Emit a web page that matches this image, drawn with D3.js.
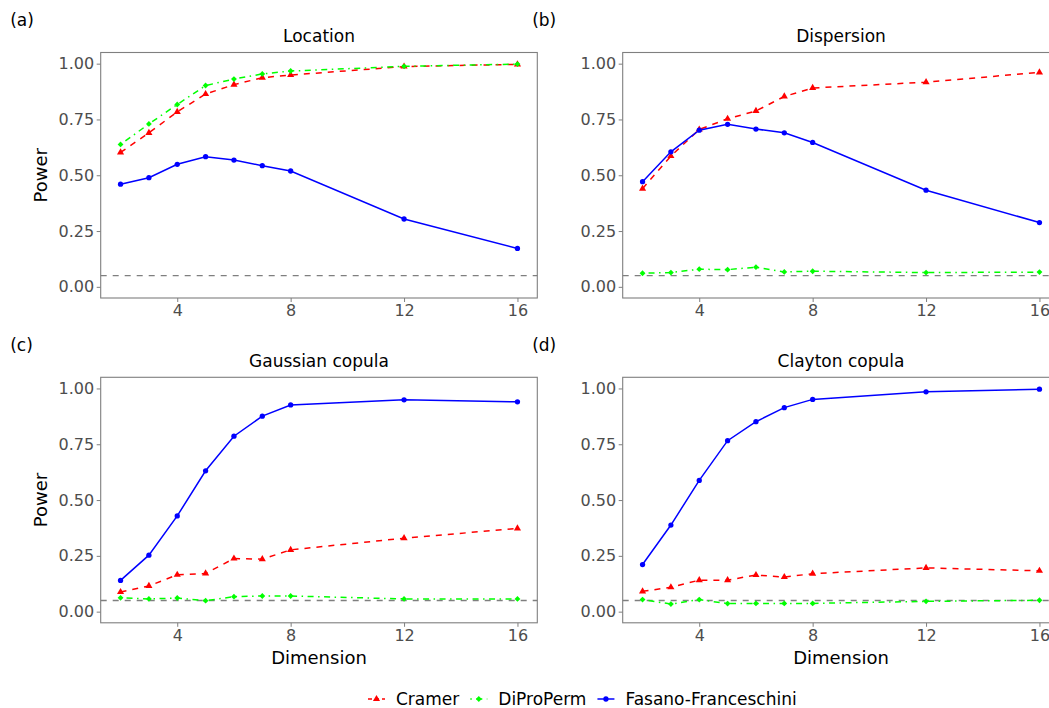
<!DOCTYPE html>
<html>
<head>
<meta charset="utf-8">
<script src="https://cdn.jsdelivr.net/npm/d3@7"></script>
<style>
  body { margin: 0; background: #fff; }
  text { font-family: "DejaVu Sans", sans-serif; }
</style>
</head>
<body>
<div id="chart"></div>
<script>
// values

var dims = [2, 3, 4, 5, 6, 7, 8, 12, 16];
var methods = ["Cramer", "DiProPerm", "Fasano-Franceschini"];
var panelTitles = ["Location", "Dispersion", "Gaussian copula", "Clayton copula"];
var panelTags = ["(a)", "(b)", "(c)", "(d)"];
var xTicks = [4, 8, 12, 16];
var yTicks = [0, 0.25, 0.5, 0.75, 1];
var alpha = 0.05;

var locationCramer = [0.602, 0.690, 0.784, 0.864, 0.906, 0.937, 0.949, 0.987, 0.997];
var locationDiProPerm = [0.638, 0.730, 0.817, 0.902, 0.931, 0.954, 0.967, 0.988, 0.998];
var locationFasano = [0.460, 0.489, 0.549, 0.583, 0.568, 0.543, 0.519, 0.304, 0.172];

var dispersionCramer = [0.440, 0.586, 0.705, 0.753, 0.788, 0.853, 0.891, 0.917, 0.961];
var dispersionDiProPerm = [0.061, 0.064, 0.079, 0.077, 0.088, 0.067, 0.070, 0.064, 0.066];
var dispersionFasano = [0.471, 0.605, 0.702, 0.728, 0.707, 0.690, 0.647, 0.433, 0.288];

var gaussianCramer = [0.088, 0.115, 0.165, 0.171, 0.238, 0.235, 0.277, 0.329, 0.373];
var gaussianDiProPerm = [0.062, 0.057, 0.061, 0.049, 0.067, 0.070, 0.070, 0.057, 0.057];
var gaussianFasano = [0.140, 0.253, 0.429, 0.631, 0.786, 0.876, 0.926, 0.949, 0.940];

var claytonCramer = [0.091, 0.109, 0.141, 0.141, 0.164, 0.155, 0.170, 0.196, 0.183];
var claytonDiProPerm = [0.054, 0.034, 0.054, 0.036, 0.037, 0.037, 0.037, 0.046, 0.051];
var claytonFasano = [0.211, 0.388, 0.588, 0.766, 0.851, 0.914, 0.951, 0.985, 0.997];

var panelData = [
    [locationCramer, locationDiProPerm, locationFasano],
    [dispersionCramer, dispersionDiProPerm, dispersionFasano],
    [gaussianCramer, gaussianDiProPerm, gaussianFasano],
    [claytonCramer, claytonDiProPerm, claytonFasano]
];

// styles for each method
var colors = ["#FF0000", "#00FF00", "#0000FF"],
    dashes = ["6,6", "1.5,4.5,6,4.5", null],
    shapes = [
        d3.symbol().type(d3.symbolTriangle).size(22),
        d3.symbol().type(d3.symbolSquare).size(17),
        d3.symbol().type(d3.symbolCircle).size(22)
    ],
    shapeRotate = [0, 45, 0];

// layout
var w = 1049,
    h = 708,
    pw = 436.6,
    ph = 245.5,
    lefts = [100.7, 622.7],
    tops = [52.5, 377.3],
    svg = d3.select("#chart")
            .append("svg")
            .attr("width", w)
            .attr("height", h),
    x = d3.scaleLinear().domain([1.3, 16.7]).range([0, pw]),
    y = d3.scaleLinear().domain([-0.05, 1.05]).range([ph, 0]);

for (var p = 0; p < 4; p++) {
    render_panel(p, lefts[p % 2], tops[Math.floor(p / 2)]);
}
render_legend();

function render_panel(p, left, top) {
    var g = svg.append("g").attr("transform", "translate(" + left + "," + top + ")");

    // panel tag and title
    svg.append("text")
        .attr("x", left - 90.5)
        .attr("y", top - 26.5)
        .attr("font-size", "17px")
        .attr("fill", "#000")
        .text(panelTags[p]);
    g.append("text")
        .attr("x", pw / 2)
        .attr("y", -10.5)
        .attr("text-anchor", "middle")
        .attr("font-size", "17px")
        .attr("fill", "#000")
        .text(panelTitles[p]);

    // y axis
    var ya = g.append("g")
        .call(d3.axisLeft(y).tickValues(yTicks).tickFormat(d3.format(".2f")).tickSize(4).tickPadding(2.5));
    ya.select(".domain").remove();
    ya.selectAll("line").attr("stroke", "#7F7F7F");
    ya.selectAll("text").attr("fill", "#4D4D4D").attr("font-size", "16px")
        .attr("font-family", "DejaVu Sans");

    // x axis
    var xa = g.append("g")
        .attr("transform", "translate(0," + ph + ")")
        .call(d3.axisBottom(x).tickValues(xTicks).tickFormat(d3.format("d")).tickSize(4).tickPadding(2.5));
    xa.select(".domain").remove();
    xa.selectAll("line").attr("stroke", "#7F7F7F");
    xa.selectAll("text").attr("fill", "#4D4D4D").attr("font-size", "16px")
        .attr("font-family", "DejaVu Sans");

    // axis titles
    if (p % 2 == 0) {
        g.append("text")
            .attr("transform", "translate(-53.5," + (ph / 2) + ") rotate(-90)")
            .attr("text-anchor", "middle")
            .attr("font-size", "18px")
            .attr("fill", "#000")
            .text("Power");
    }
    if (p >= 2) {
        g.append("text")
            .attr("x", pw / 2)
            .attr("y", ph + 41.5)
            .attr("text-anchor", "middle")
            .attr("font-size", "18px")
            .attr("fill", "#000")
            .text("Dimension");
    }

    // reference line at the nominal level
    g.append("line")
        .attr("x1", 0)
        .attr("x2", pw)
        .attr("y1", y(alpha))
        .attr("y2", y(alpha))
        .attr("stroke", "#7F7F7F")
        .attr("stroke-width", 1.3)
        .attr("stroke-dasharray", "6,6");

    var line = d3.line()
        .x(function(d, i) { return x(dims[i]); })
        .y(function(d) { return y(d); });

    // lines first, then points (like ggplot layers)
    panelData[p].forEach(function(vals, m) {
        g.append("path")
            .datum(vals)
            .attr("fill", "none")
            .attr("stroke", colors[m])
            .attr("stroke-width", 1.5)
            .attr("stroke-dasharray", dashes[m])
            .attr("d", line);
    });
    panelData[p].forEach(function(vals, m) {
        g.selectAll(".pt" + m)
            .data(vals)
            .enter()
            .append("path")
            .attr("class", "pt" + m)
            .attr("transform", function(d, i) {
                return "translate(" + x(dims[i]) + "," + y(d) + ") rotate(" + shapeRotate[m] + ")";
            })
            .attr("d", shapes[m])
            .attr("fill", colors[m]);
    });

    // panel border
    g.append("rect")
        .attr("x", 0)
        .attr("y", 0)
        .attr("width", pw)
        .attr("height", ph)
        .attr("fill", "none")
        .attr("stroke", "#7F7F7F")
        .attr("stroke-width", 1.1);
}

function render_legend() {
    var lx = 368,
        ly = 699;
    methods.forEach(function(name, m) {
        svg.append("line")
            .attr("x1", lx)
            .attr("x2", lx + 17)
            .attr("y1", ly)
            .attr("y2", ly)
            .attr("stroke", colors[m])
            .attr("stroke-width", 1.5)
            .attr("stroke-dasharray", m == 0 ? "4,3" : dashes[m]);
        svg.append("path")
            .attr("transform", "translate(" + (lx + 8.5) + "," + ly + ") rotate(" + shapeRotate[m] + ")")
            .attr("d", shapes[m])
            .attr("fill", colors[m]);
        var t = svg.append("text")
            .attr("x", lx + 28)
            .attr("y", ly + 5.5)
            .attr("font-size", "17px")
            .attr("fill", "#000")
            .text(name);
        lx = lx + 28 + t.node().getComputedTextLength() + 11;
    });
}
</script>
</body>
</html>
